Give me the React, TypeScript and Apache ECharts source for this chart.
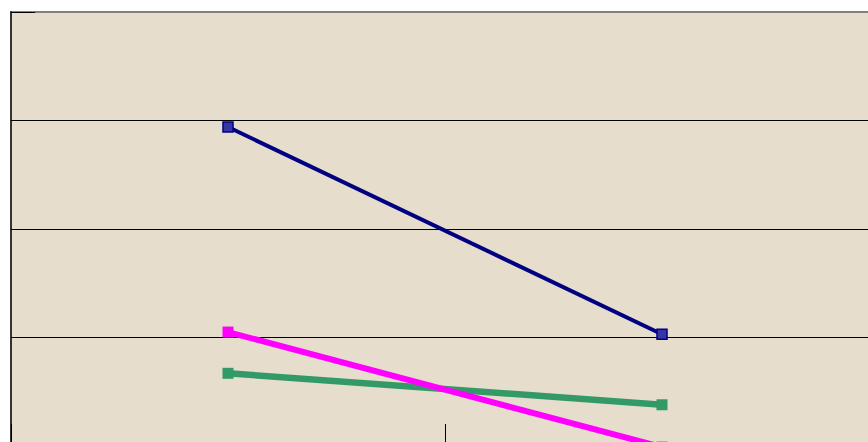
import React, { useEffect, useRef } from "react";
import * as echarts from "echarts";

const categories = ["A", "B"];
const navySeries = [2.94, 1.03];
const magentaSeries = [1.05, -0.01];
const greenSeries = [0.67, 0.38];
const yTicks = { min: 0, max: 4, interval: 1 };

export default function App() {
  const ref = useRef<HTMLDivElement>(null);
  useEffect(() => {
    if (!ref.current) return;
    const chart = echarts.init(ref.current, null, { renderer: "svg" });
    chart.setOption({
      animation: false,
      backgroundColor: "#ffffff",
      grid: {
        left: 11,
        top: 12,
        width: 868,
        height: 434,
        show: true,
        backgroundColor: "#e6ddcd",
        borderColor: "#808080",
        borderWidth: 2,
      },
      xAxis: {
        type: "category",
        data: categories,
        boundaryGap: true,
        axisLine: { show: true, lineStyle: { color: "#000", width: 1 } },
        axisTick: { show: true, inside: true, length: 22, lineStyle: { color: "#000", width: 1 } },
        axisLabel: { show: false },
        splitLine: { show: false },
      },
      yAxis: {
        type: "value",
        min: yTicks.min,
        max: yTicks.max,
        interval: yTicks.interval,
        axisLine: { show: true, lineStyle: { color: "#333", width: 2 } },
        axisTick: { show: true, inside: true, length: 24, lineStyle: { color: "#000", width: 1 } },
        axisLabel: { show: false },
        splitLine: {
          show: true,
          lineStyle: { color: ["#000", "#000", "#000", "#000", "#808080"], width: 1 },
        },
      },
      series: [
        {
          type: "line",
          data: navySeries,
          clip: false,
          lineStyle: { color: "#000080", width: 4 },
          symbol: "rect",
          symbolSize: 10,
          itemStyle: { color: "#3535a5", borderColor: "#000080", borderWidth: 1.5 },
          z: 3,
        },
        {
          type: "line",
          data: magentaSeries,
          clip: false,
          lineStyle: { color: "#ff00ff", width: 6 },
          symbol: "rect",
          symbolSize: 11,
          itemStyle: { color: "#ff00ff", borderColor: "#ff00ff", borderWidth: 0 },
          z: 2,
        },
        {
          type: "line",
          data: greenSeries,
          clip: false,
          lineStyle: { color: "#339966", width: 6.5 },
          symbol: "rect",
          symbolSize: 11,
          itemStyle: { color: "#339966", borderColor: "#339966", borderWidth: 0 },
          z: 1,
        },
      ],
    });
    return () => chart.dispose();
  }, []);
  return (
    <div style={{ position: "fixed", left: 0, top: 0, width: 868, height: 442, overflow: "hidden", background: "#fff" }}>
      <div ref={ref} style={{ width: 900, height: 470 }} />
    </div>
  );
}
